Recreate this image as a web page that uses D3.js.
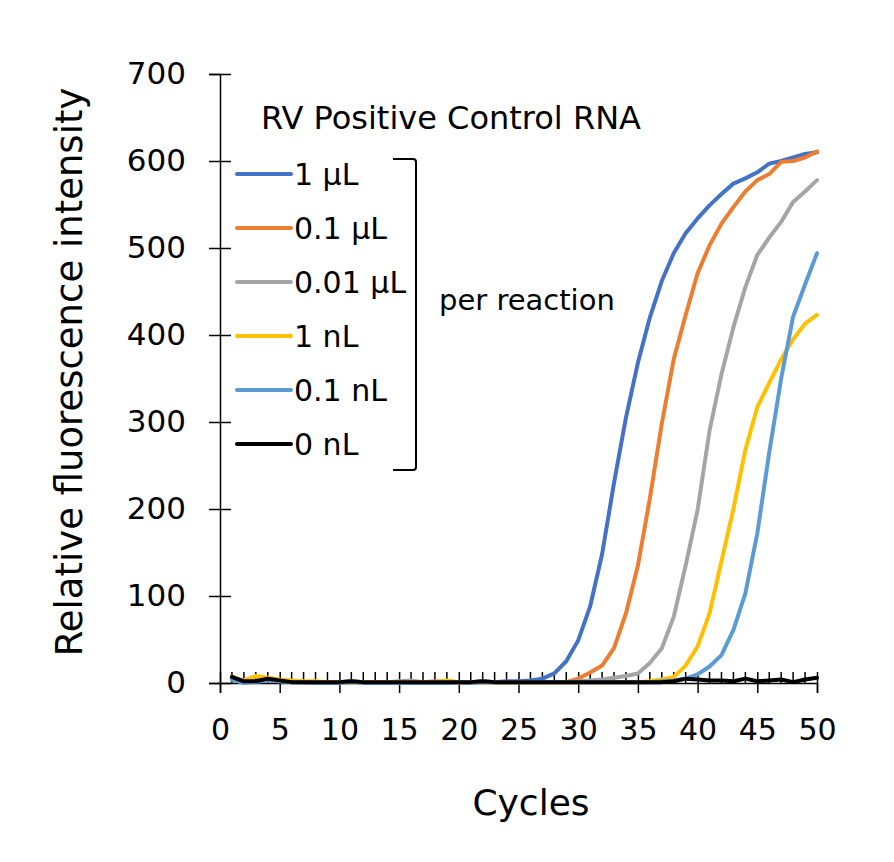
<!DOCTYPE html>
<html>
<head>
<meta charset="utf-8">
<script src="https://cdn.jsdelivr.net/npm/d3@7"></script>
<style>
  body { margin: 0; background: #fff; }
  text { font-family: "DejaVu Sans", Verdana, sans-serif; fill: #000; }
</style>
</head>
<body>
<svg id="chart"></svg>
<script>
// cycles on the x axis
const cycles = [1,2,3,4,5,6,7,8,9,10,11,12,13,14,15,16,17,18,19,20,21,22,23,24,25,
                26,27,28,29,30,31,32,33,34,35,36,37,38,39,40,41,42,43,44,45,46,47,48,49,50];

const xTicks = [0,5,10,15,20,25,30,35,40,45,50];
const yTicks = [0,100,200,300,400,500,600,700];

const seriesNames = ["1 μL", "0.1 μL", "0.01 μL", "1 nL", "0.1 nL", "0 nL"];
const seriesColors = ["#4472C4", "#ED7D31", "#A5A5A5", "#FFC000", "#5B9BD5", "#000000"];

const v1uL = [6,1,2,4,3,2,1,1,1,1,2,1,1,1,1,1,1,1,2,1,1,2,1,2,2,3,
              5,11,25,49,88,148,230,305,368,420,462,494,517,534,549,562,574,580,587,597,600,604,608,610];
const v01uL = [5,1,3,4,2,2,1,1,1,1,1,1,1,1,1,1,1,2,1,1,1,1,1,1,1,1,1,1,
               1,5,12,20,40,80,135,212,298,372,423,471,503,528,547,565,578,585,599,600,604,611];
const v001uL = [6,1,2,5,3,2,1,1,1,1,2,1,1,1,2,3,1,1,1,1,1,2,1,1,1,1,1,1,1,2,3,4,6,
                8,11,23,40,76,135,199,290,355,409,455,492,512,530,553,565,578];
const v1nL = [7,3,8,6,4,3,2,2,1,1,1,1,1,1,1,1,1,1,3,1,1,1,1,1,1,1,1,1,1,1,1,1,1,1,1,2,
              4,7,20,42,80,140,200,268,317,345,372,395,413,423];
const v01nL = [4,0,1,3,2,1,1,0,0,0,1,0,0,0,0,0,0,0,0,1,0,1,1,1,1,1,1,1,1,1,1,1,1,1,1,1,2,
               3,5,10,19,32,61,103,172,265,350,421,458,494];
const v0nL = [7,2,2,5,3,1,1,1,1,1,2,1,1,1,1,1,1,1,1,1,1,2,1,1,1,1,1,1,1,1,1,1,1,1,1,1,1,
              2,5,4,3,3,2,5,2,3,4,1,4,6];

const seriesValues = [v1uL, v01uL, v001uL, v1nL, v01nL, v0nL];

const width = 894, height = 862;
const svg = d3.select("#chart").attr("width", width).attr("height", height);

const x = d3.scaleLinear().domain([0, 50]).range([220, 817]);
const y = d3.scaleLinear().domain([0, 700]).range([683, 74]);

// y axis, ticks crossing the line
const yAxis = svg.append("g")
    .attr("transform", "translate(" + x(0) + ",0)")
    .call(d3.axisLeft(y).tickValues(yTicks).tickSize(11));
yAxis.select(".domain").attr("stroke", "#000").attr("stroke-width", 1.5);
yAxis.selectAll(".tick line").attr("x1", 11).attr("x2", -11).attr("stroke-width", 1.5);
yAxis.selectAll(".tick text")
    .style("font-size", "31px")
    .attr("x", -34)
    .attr("fill", "#000");

// x axis: major ticks every 5, minor every cycle
const xAxis = svg.append("g")
    .attr("transform", "translate(0," + y(0) + ")")
    .call(d3.axisBottom(x).tickValues(xTicks).tickSize(10));
xAxis.select(".domain").attr("stroke", "#000").attr("stroke-width", 1.5);
xAxis.selectAll(".tick line").attr("y1", -11).attr("y2", 10).attr("stroke-width", 1.5);
xAxis.selectAll(".tick text")
    .style("font-size", "30px")
    .attr("fill", "#000")
    .attr("y", 57)
    .attr("dy", null);

svg.append("g")
    .selectAll("line")
    .data(cycles.filter(function (c) { return c % 5 !== 0; }))
    .enter().append("line")
    .attr("x1", function (d) { return x(d); })
    .attr("x2", function (d) { return x(d); })
    .attr("y1", y(0) - 11)
    .attr("y2", y(0))
    .attr("stroke", "#000")
    .attr("stroke-width", 1.5);

// curves
const line = d3.line()
    .x(function (d, i) { return x(cycles[i]); })
    .y(function (d) { return y(d); });

svg.append("g")
    .selectAll("path")
    .data(seriesValues)
    .enter().append("path")
    .attr("d", line)
    .attr("fill", "none")
    .attr("stroke", function (d, i) { return seriesColors[i]; })
    .attr("stroke-width", 4)
    .attr("stroke-linejoin", "round")
    .attr("stroke-linecap", "round");

// legend
svg.append("text")
    .attr("x", 261)
    .attr("y", 129)
    .style("font-size", "32px")
    .text("RV Positive Control RNA");

const legend = svg.append("g")
    .selectAll("g")
    .data(seriesNames)
    .enter().append("g")
    .attr("transform", function (d, i) { return "translate(0," + (174 + i * 54) + ")"; });

legend.append("line")
    .attr("x1", 237)
    .attr("x2", 291)
    .attr("stroke", function (d, i) { return seriesColors[i]; })
    .attr("stroke-width", 4)
    .attr("stroke-linecap", "round");

legend.append("text")
    .attr("x", 294)
    .attr("dy", "0.36em")
    .style("font-size", "30px")
    .text(function (d) { return d; });

svg.append("path")
    .attr("d", "M393,159 H413 Q416,159 416,162 V467 Q416,470 413,470 H393")
    .attr("fill", "none")
    .attr("stroke", "#000")
    .attr("stroke-width", 2);

svg.append("text")
    .attr("x", 439)
    .attr("y", 310)
    .style("font-size", "29px")
    .text("per reaction");

// axis titles
svg.append("text")
    .attr("transform", "translate(82,372) rotate(-90)")
    .attr("text-anchor", "middle")
    .style("font-size", "37px")
    .text("Relative fluorescence intensity");

svg.append("text")
    .attr("x", 531)
    .attr("y", 815)
    .attr("text-anchor", "middle")
    .style("font-size", "36px")
    .text("Cycles");
</script>
</body>
</html>
